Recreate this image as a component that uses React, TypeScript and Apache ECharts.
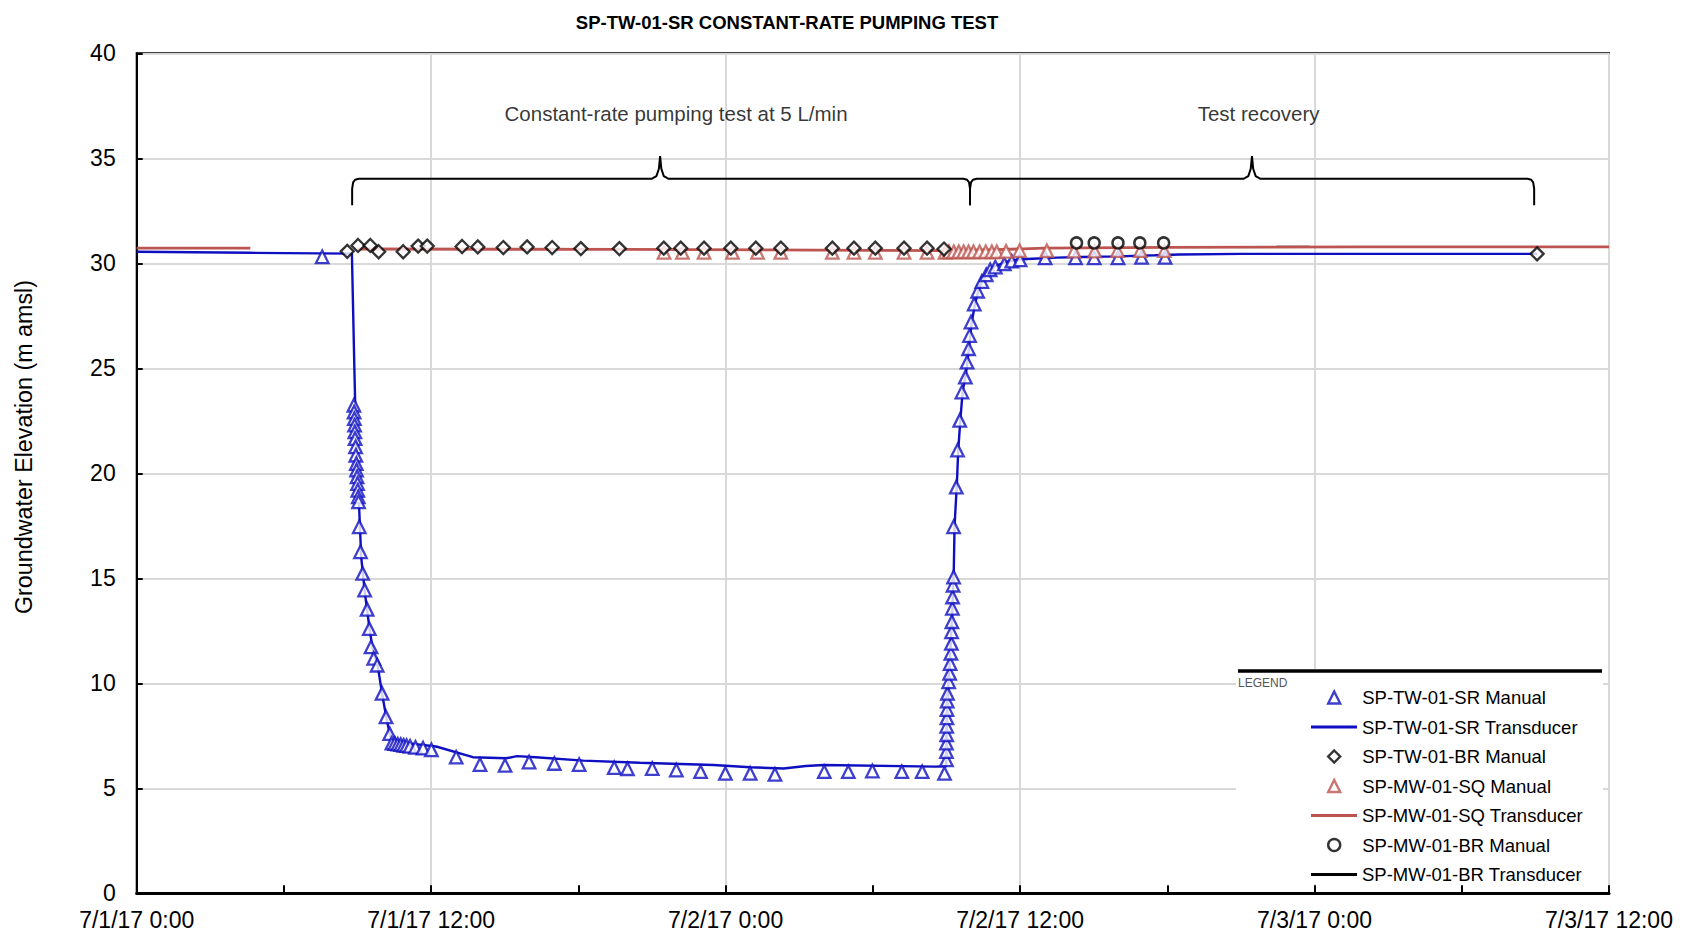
import React, { useEffect, useRef } from "react";
import * as echarts from "echarts";

const FONT = "'Liberation Sans', Arial, Helvetica, sans-serif";

const titleText = "SP-TW-01-SR CONSTANT-RATE PUMPING TEST";
const yAxisTitle = "Groundwater Elevation (m amsl)";
const xTickLabels = ["7/1/17 0:00", "7/1/17 12:00", "7/2/17 0:00", "7/2/17 12:00", "7/3/17 0:00", "7/3/17 12:00"];
const xTickHours = [0, 12, 24, 36, 48, 60];

const seriesNames = [
  "SP-TW-01-SR Manual",
  "SP-TW-01-SR Transducer",
  "SP-TW-01-BR Manual",
  "SP-MW-01-SQ Manual",
  "SP-MW-01-SQ Transducer",
  "SP-MW-01-BR Manual",
  "SP-MW-01-BR Transducer",
];

// hours since 7/1/17 0:00, elevation (m amsl)
const twSrManual: number[][] = [
  [7.56, 30.31],
  [8.85, 23.24], [8.86, 22.92], [8.87, 22.6], [8.88, 22.29], [8.89, 21.97], [8.9, 21.65], [8.92, 21.26],
  [8.93, 20.86], [8.95, 20.46], [8.96, 20.15], [8.98, 19.83], [9.0, 19.51], [9.01, 19.19], [9.03, 18.88], [9.04, 18.64],
  [9.07, 17.45], [9.12, 16.26], [9.21, 15.23], [9.29, 14.44], [9.39, 13.52], [9.48, 12.6], [9.55, 11.73], [9.66, 11.19],
  [9.8, 10.86], [10.0, 9.52], [10.16, 8.4], [10.31, 7.6], [10.4, 7.15], [10.52, 7.13], [10.64, 7.1], [10.76, 7.08],
  [10.88, 7.05], [11.0, 7.03], [11.14, 7.0], [11.36, 6.95], [11.67, 6.91], [12.01, 6.83],
  [13.02, 6.48], [13.99, 6.13], [15.01, 6.09], [15.99, 6.25], [17.02, 6.18], [18.03, 6.13], [19.46, 5.98], [20.0, 5.93],
  [21.01, 5.94], [21.99, 5.87], [22.98, 5.79], [23.99, 5.71], [25.0, 5.71], [26.01, 5.66], [28.02, 5.79], [29.0, 5.79],
  [29.98, 5.82], [31.18, 5.79], [32.01, 5.79], [32.92, 5.71],
  [33.0, 6.35], [33.0, 6.75], [33.0, 7.15], [33.01, 7.55], [33.01, 7.95], [33.02, 8.35], [33.02, 8.75], [33.03, 9.15],
  [33.04, 9.52], [33.09, 10.07], [33.13, 10.47], [33.15, 10.94], [33.18, 11.43], [33.2, 11.9], [33.21, 12.45], [33.22, 12.93],
  [33.24, 13.57], [33.25, 14.11], [33.27, 14.67], [33.29, 15.06], [33.29, 17.45], [33.4, 19.34], [33.45, 21.1], [33.54, 22.52],
  [33.63, 23.87], [33.77, 24.58], [33.84, 25.29], [33.9, 25.93], [33.94, 26.56], [34.0, 27.2], [34.13, 28.06], [34.27, 28.67],
  [34.44, 29.13], [34.62, 29.45], [34.78, 29.69], [34.99, 29.82], [35.36, 29.97], [35.66, 30.1], [36.0, 30.16], [37.02, 30.26],
  [38.26, 30.26], [39.02, 30.26], [39.99, 30.26], [40.95, 30.28], [41.91, 30.28],
];

const twSrTransducer: number[][] = [
  [0, 30.55], [4.6, 30.5], [8.77, 30.46], [8.88, 24.5], [8.92, 22.5], [8.98, 20.5], [9.06, 18.5], [9.15, 16.0],
  [9.3, 14.3], [9.5, 12.5], [9.65, 11.4], [9.8, 11.0], [10.0, 9.5], [10.2, 8.2], [10.35, 7.4], [10.5, 7.3],
  [11.0, 7.15], [12.2, 6.99], [13.7, 6.48], [15.06, 6.43], [15.5, 6.53], [16.26, 6.48], [18.2, 6.32], [20.5, 6.22],
  [23.5, 6.11], [25.0, 6.0], [26.36, 5.94], [27.27, 6.06], [28.0, 6.11], [32.54, 6.03], [32.99, 6.05], [33.02, 8.5],
  [33.08, 10.0], [33.16, 11.5], [33.24, 13.5], [33.3, 15.5], [33.33, 17.5], [33.42, 19.4], [33.48, 21.1], [33.57, 22.6],
  [33.66, 23.9], [33.8, 24.8], [33.92, 26.0], [34.03, 27.2], [34.17, 28.1], [34.32, 28.8], [34.5, 29.25], [34.7, 29.6],
  [34.95, 29.85], [35.4, 30.05], [35.9, 30.18], [36.5, 30.22], [37.5, 30.27], [38.5, 30.3], [40.0, 30.33], [41.5, 30.38],
  [42.5, 30.42], [45.0, 30.45], [50.0, 30.45], [57.07, 30.45],
];

const twBrManual: number[][] = [
  [8.58, 30.57], [9.02, 30.85], [9.52, 30.85], [9.86, 30.55], [10.86, 30.55], [11.47, 30.82], [11.84, 30.82],
  [13.26, 30.8], [13.9, 30.78], [14.94, 30.75], [15.91, 30.78], [16.93, 30.75], [18.1, 30.7], [19.67, 30.7],
  [21.48, 30.72], [22.17, 30.72], [23.12, 30.72], [24.21, 30.72], [25.23, 30.72], [26.25, 30.72], [28.35, 30.72],
  [29.23, 30.72], [30.1, 30.72], [31.27, 30.72], [32.21, 30.72], [32.9, 30.68], [57.07, 30.45],
];

const mwSqManual: number[][] = [
  [21.49, 30.52], [22.24, 30.52], [23.12, 30.52], [24.28, 30.52], [25.3, 30.52], [26.25, 30.52], [28.35, 30.52],
  [29.23, 30.52], [30.1, 30.52], [31.27, 30.52], [32.21, 30.52], [32.94, 30.52], [33.1, 30.55], [33.3, 30.55],
  [33.5, 30.55], [33.7, 30.55], [33.9, 30.55], [34.1, 30.55], [34.35, 30.55], [34.6, 30.55], [34.85, 30.55],
  [35.05, 30.55], [35.43, 30.57], [35.98, 30.6], [37.09, 30.6], [38.2, 30.58], [39.04, 30.58], [39.97, 30.6],
  [40.9, 30.6], [41.88, 30.6],
];

const mwSqTransducer: (number[] | null)[] = [
  [0, 30.72], [4.63, 30.72], null, [9.0, 30.68], [20.0, 30.66], [30.0, 30.62], [33.0, 30.6], [35.0, 30.65],
  [37.0, 30.72], [42.0, 30.76], [50.0, 30.78], [60.0, 30.78],
];

const mwBrManual: number[][] = [
  [38.3, 30.97], [39.02, 30.97], [39.99, 30.97], [40.88, 30.97], [41.85, 30.97],
];

const mwBrTransducer: number[][] = [
  [46.45, 30.8], [47.8, 30.8],
];

const annotations = [
  { name: "Constant-rate pumping test at 5 L/min", value: [21.98, 37.14] },
  { name: "Test recovery", value: [45.72, 37.14] },
];

const braceTesting: number[][] = [
  [8.78, 32.76], [8.78, 33.55], [8.82, 33.85], [8.9, 33.98], [9.05, 34.03], [21.0, 34.03], [21.18, 34.15],
  [21.28, 34.5], [21.33, 35.1], [21.38, 34.5], [21.48, 34.15], [21.66, 34.03], [33.69, 34.03], [33.84, 33.98],
  [33.92, 33.85], [33.96, 33.55], [33.96, 32.76],
];
const braceRecovery: number[][] = [
  [33.96, 32.76], [33.96, 33.55], [34.0, 33.85], [34.08, 33.98], [34.23, 34.03], [45.12, 34.03], [45.3, 34.15],
  [45.4, 34.5], [45.45, 35.1], [45.5, 34.5], [45.6, 34.15], [45.78, 34.03], [56.68, 34.03], [56.83, 33.98],
  [56.91, 33.85], [56.95, 33.55], [56.95, 32.76],
];

const BLUE = "#0f0fc2";
const RED = "#BC5550";
const BLACK = "#000000";

// legend look per series (order = legend order)
const legendLook = [
  { icon: "triangle", color: BLUE, kind: "marker" },
  { icon: "rect", color: BLUE, kind: "line" },
  { icon: "diamond", color: BLACK, kind: "marker" },
  { icon: "triangle", color: RED, kind: "marker" },
  { icon: "rect", color: RED, kind: "line" },
  { icon: "circle", color: BLACK, kind: "marker" },
  { icon: "rect", color: BLACK, kind: "line" },
];

export default function App() {
  const ref = useRef<HTMLDivElement>(null);

  useEffect(() => {
    if (!ref.current) return;
    const chart = echarts.init(ref.current, undefined, { renderer: "svg" });

    const legendTop0 = 688;
    const legendStep = 29.5;
    const legends = seriesNames.map((name, i) => {
      const look = legendLook[i];
      const isLine = look.kind === "line";
      return {
        data: [
          {
            name,
            icon: look.icon,
            itemStyle: isLine
              ? { color: look.color, borderWidth: 0 }
              : { color: "#ffffff", borderColor: look.color, borderWidth: 2.4 },
          },
        ],
        orient: "vertical",
        left: isLine ? 1311 : 1327,
        top: legendTop0 + i * legendStep,
        itemWidth: isLine ? 46 : 12,
        itemHeight: isLine ? 2.8 : 12,
        padding: 0,
        selectedMode: false,
        textStyle: {
          fontFamily: FONT,
          fontSize: 18.5,
          color: "#000",
          padding: isLine ? [0, 0, 0, 0] : [0, 0, 0, 17],
        },
      };
    });

    const option: any = {
      animation: false,
      backgroundColor: "#ffffff",
      textStyle: { fontFamily: FONT },
      title: {
        text: titleText,
        left: 782,
        top: 8,
        textAlign: "center",
        textStyle: { fontFamily: FONT, fontSize: 18.5, fontWeight: "bold", color: "#000" },
      },
      grid: {
        left: 136.7,
        right: 73,
        top: 53.3,
        bottom: 40.7,
        show: true,
        borderColor: "#000",
        borderWidth: 2,
        backgroundColor: "transparent",
      },
      legend: legends,
      xAxis: {
        type: "value",
        min: 0,
        max: 60,
        interval: 12,
        axisLine: { show: true, lineStyle: { color: "#000", width: 3 } },
        axisTick: { show: true, inside: true, length: 8, lineStyle: { color: "#000", width: 2 } },
        minorTick: { show: true, splitNumber: 2, length: 8, lineStyle: { color: "#000", width: 2 } },
        splitLine: { show: true, lineStyle: { color: "#d9d9d9", width: 2 } },
        axisLabel: {
          fontFamily: FONT,
          fontSize: 23,
          color: "#000",
          margin: 15,
          formatter: (v: number) => {
            const i = xTickHours.indexOf(Math.round(v));
            return i >= 0 ? xTickLabels[i] : "";
          },
        },
      },
      yAxis: {
        type: "value",
        min: 0,
        max: 40,
        interval: 5,
        axisLine: { show: true, lineStyle: { color: "#000", width: 2 } },
        axisTick: { show: true, inside: true, length: 6, lineStyle: { color: "#000", width: 2 } },
        splitLine: { show: true, lineStyle: { color: "#d9d9d9", width: 2 } },
        axisLabel: { fontFamily: FONT, fontSize: 23, color: "#000", margin: 21 },
      },
      graphic: [
        {
          type: "text",
          z: 5,
          x: 24,
          y: 447,
          rotation: Math.PI / 2,
          style: {
            text: yAxisTitle,
            fontFamily: FONT,
            fontSize: 23.3,
            fill: "#000",
            align: "center",
            verticalAlign: "middle",
          },
          silent: true,
        },
        { type: "rect", z: 1, shape: { x: 1236, y: 669, width: 367, height: 215 }, style: { fill: "#ffffff" }, silent: true },
        { type: "line", z: 5, shape: { x1: 1238, y1: 671, x2: 1602, y2: 671 }, style: { stroke: "#000", lineWidth: 3.5 }, silent: true },
        {
          type: "text",
          z: 5,
          x: 1238,
          y: 683,
          style: { text: "LEGEND", fontFamily: FONT, fontSize: 12, fill: "#555", verticalAlign: "middle", align: "left" },
          silent: true,
        },
      ],
      series: [
        {
          name: seriesNames[6],
          type: "line",
          data: mwBrTransducer,
          symbol: "none",
          lineStyle: { color: BLACK, width: 1.5 },
          itemStyle: { color: BLACK },
          z: 2,
        },
        {
          name: seriesNames[4],
          type: "line",
          data: mwSqTransducer,
          symbol: "none",
          connectNulls: false,
          lineStyle: { color: RED, width: 2.8 },
          itemStyle: { color: RED },
          z: 3,
        },
        {
          name: seriesNames[1],
          type: "line",
          data: twSrTransducer,
          symbol: "none",
          lineStyle: { color: BLUE, width: 2.4 },
          itemStyle: { color: BLUE },
          z: 3,
        },
        {
          name: seriesNames[0],
          type: "scatter",
          data: twSrManual,
          symbol: "triangle",
          symbolSize: 12.5,
          itemStyle: { color: "#ffffff", borderColor: BLUE, borderWidth: 2.3 },
          z: 4,
        },
        {
          name: seriesNames[3],
          type: "scatter",
          data: mwSqManual,
          symbol: "triangle",
          symbolSize: 12.5,
          itemStyle: { color: "#ffffff", borderColor: RED, borderWidth: 2.3 },
          z: 5,
        },
        {
          name: seriesNames[2],
          type: "scatter",
          data: twBrManual,
          symbol: "diamond",
          symbolSize: 13,
          itemStyle: { color: "#ffffff", borderColor: BLACK, borderWidth: 2.3 },
          z: 6,
        },
        {
          name: seriesNames[5],
          type: "scatter",
          data: mwBrManual,
          symbol: "circle",
          symbolSize: 11,
          itemStyle: { color: "#ffffff", borderColor: BLACK, borderWidth: 2.5 },
          z: 7,
        },
        {
          name: "brace-testing",
          type: "line",
          data: braceTesting,
          symbol: "none",
          silent: true,
          lineStyle: { color: BLACK, width: 2 },
          z: 3,
        },
        {
          name: "brace-recovery",
          type: "line",
          data: braceRecovery,
          symbol: "none",
          silent: true,
          lineStyle: { color: BLACK, width: 2 },
          z: 3,
        },
        {
          name: "annotations",
          type: "scatter",
          data: annotations,
          symbolSize: 1,
          silent: true,
          itemStyle: { color: "transparent" },
          label: {
            show: true,
            position: "inside",
            formatter: "{b}",
            fontFamily: FONT,
            fontSize: 20.5,
            color: "#000",
          },
          z: 3,
        },
      ],
    };
    chart.setOption(option);
    return () => chart.dispose();
  }, []);

  return (
    <div
      ref={ref}
      style={{ position: "fixed", left: 0, top: 0, width: 1682, height: 934, background: "#fff" }}
    />
  );
}
